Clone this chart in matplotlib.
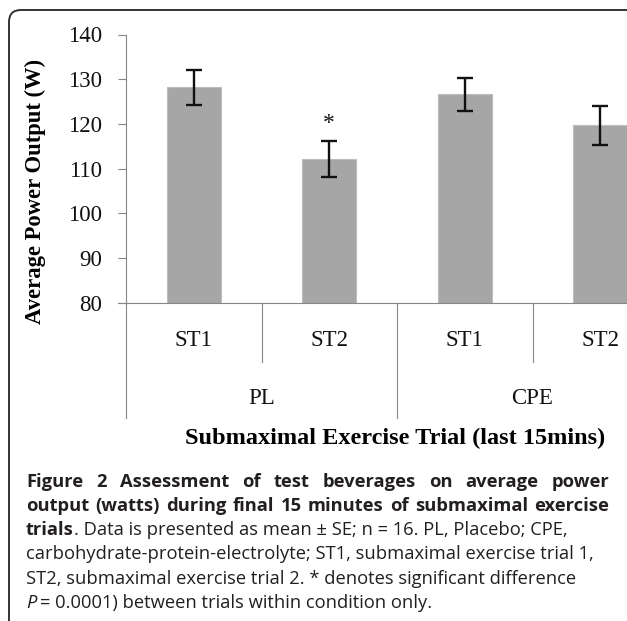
import matplotlib
matplotlib.use("Agg")
import matplotlib.pyplot as plt
from matplotlib.patches import FancyBboxPatch
from matplotlib.transforms import IdentityTransform

# data
conditions = ["PL", "CPE"]
trials = ["ST1", "ST2", "ST1", "ST2"]
power_mean = [128.2, 112.2, 126.6, 119.7]
power_se = [3.9, 4.0, 3.6, 4.3]
significant = [False, True, False, False]
y_ticks = [80, 90, 100, 110, 120, 130, 140]

SERIF = "Liberation Serif"
SANS = "Open Sans"
AXIS_GREY = "#868686"
W, H = 627, 621

fig = plt.figure(figsize=(W / 100, H / 100), dpi=100)
# axis spans 4 categories of 135.5 px starting at x=126; only part is visible
ax = fig.add_axes([126 / W, 1 - 303 / H, 542 / W, 268.5 / H])

positions = [i + 0.5 for i in range(len(trials))]
ax.bar(positions, [m - 80 for m in power_mean], bottom=80, width=0.4,
       color="#a6a6a6", edgecolor="#bdbdbd", linewidth=0.8, zorder=2)
ax.errorbar(positions, power_mean, yerr=power_se, fmt="none", ecolor="#111111",
            elinewidth=1.7, capsize=5.5, capthick=1.7, zorder=3)
for x, m, s, sig in zip(positions, power_mean, power_se, significant):
    if sig:
        ax.text(x, m + s + 1.6, "*", ha="center", va="bottom",
                fontsize=17, family=SERIF, color="#111111")

ax.set_xlim(0, 4)
ax.set_ylim(80, 140)
ax.set_yticks(y_ticks)
ax.set_xticks([])
for side in ("top", "right", "bottom"):
    ax.spines[side].set_visible(False)
ax.spines["left"].set_color(AXIS_GREY)
ax.tick_params(axis="y", direction="out", length=6, width=0.8, color=AXIS_GREY,
               pad=11, labelsize=16.5)
for label in ax.get_yticklabels():
    label.set_family(SERIF)
    label.set_color("#111111")

# category axis drawn below the plot area
xt = ax.get_xaxis_transform()
ax.plot([-0.06, 4], [0, 0], color=AXIS_GREY, lw=0.8, transform=xt, clip_on=False)
ax.plot([0, 0], [0, -0.428], color=AXIS_GREY, lw=0.8, transform=xt, clip_on=False)
for b in (1, 3):
    ax.plot([b, b], [0, -0.2197], color=AXIS_GREY, lw=0.8, transform=xt, clip_on=False)
for b in (2, 4):
    ax.plot([b, b], [0, -0.428], color=AXIS_GREY, lw=0.8, transform=xt, clip_on=False)
for x, t in zip(positions, trials):
    ax.text(x, -0.138, t, transform=xt, ha="center", va="center",
            fontsize=16.5, family=SERIF, color="#111111")
for i, c in enumerate(conditions):
    ax.text(2 * i + 1, -0.354, c, transform=xt, ha="center", va="center",
            fontsize=16.5, family=SERIF, color="#111111")

fig.text(35 / W, 1 - 191 / H, "Average Power Output (W)", rotation=90,
         ha="center", va="center", fontsize=16.3, fontweight="bold", family=SERIF)
fig.text(395 / W, 1 - 438 / H, "Submaximal Exercise Trial (last 15mins)",
         ha="center", va="center", fontsize=17.5, fontweight="bold", family=SERIF)

# rounded frame, cut by the right and bottom edges
frame = FancyBboxPatch((9, -30), 660, H - 10 + 30,
                       boxstyle="round,pad=0,rounding_size=12",
                       transform=IdentityTransform(), fill=False,
                       edgecolor="#333333", linewidth=1.4)
fig.add_artist(frame)

# caption
renderer = fig.canvas.get_renderer()
CAP_SIZE = 13.2
CAP_COLOR = "#231f20"
left_px, right_px = 26, 609
base0, step = 486.7, 24.26


def put(x_px, y_px, s, **kw):
    t = fig.text(x_px / W, 1 - y_px / H, s, va="baseline", ha="left",
                 fontsize=CAP_SIZE, family=SANS, color=CAP_COLOR, **kw)
    return t, t.get_window_extent(renderer).width


def justified(line, y_px, **kw):
    words = line.split()
    texts = []
    widths = []
    for w in words:
        t, wd = put(0, y_px, w, **kw)
        texts.append(t)
        widths.append(wd)
    gap = (right_px - left_px - sum(widths)) / (len(words) - 1)
    x = left_px
    for t, wd in zip(texts, widths):
        t.set_x(x / W)
        x += wd + gap


justified("Figure 2 Assessment of test beverages on average power", base0, fontweight="bold")
justified("output (watts) during final 15 minutes of submaximal exercise", base0 + step, fontweight="bold")
_, wd = put(left_px, base0 + 2 * step, "trials", fontweight="bold")
put(left_px + wd, base0 + 2 * step, ". Data is presented as mean \u00b1 SE; n = 16. PL, Placebo; CPE,")
put(left_px, base0 + 3 * step, "carbohydrate-protein-electrolyte; ST1, submaximal exercise trial 1,")
put(left_px, base0 + 4 * step, "ST2, submaximal exercise trial 2. * denotes significant difference")
_, wd = put(left_px, base0 + 5 * step, "P", style="italic")
put(left_px + wd + 4, base0 + 5 * step, "= 0.0001) between trials within condition only.")

fig.savefig("out.png", dpi=100)
